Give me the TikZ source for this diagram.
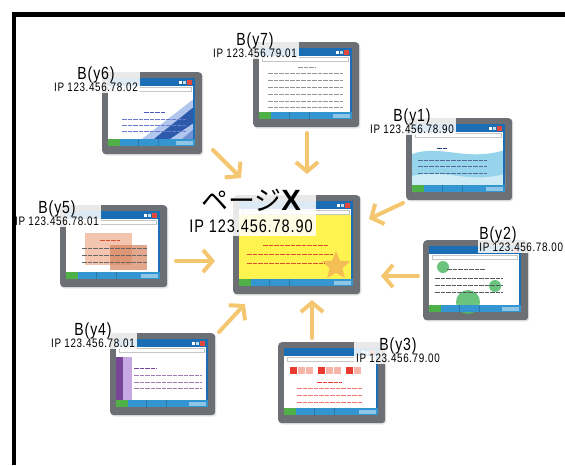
\documentclass[tikz,border=0pt]{standalone}
\usepackage{fontspec}
\setmainfont{Liberation Sans}
\newfontfamily\tagfont[FakeStretch=0.8,LetterSpace=5]{Liberation Sans}
\newfontfamily\jpfont{Noto Sans CJK JP}
\usetikzlibrary{shapes.geometric,arrows.meta,shadows}

\definecolor{bezelgray}{RGB}{108,112,117}
\definecolor{winblue}{RGB}{28,110,180}
\definecolor{barblue}{RGB}{52,150,208}
\definecolor{startgreen}{RGB}{80,176,72}
\definecolor{closered}{RGB}{226,72,60}
\definecolor{arrowgold}{RGB}{244,198,112}
\definecolor{paleyellow}{RGB}{255,243,80}
\definecolor{staror}{RGB}{242,172,88}
\definecolor{textred}{RGB}{214,80,50}
\definecolor{textgray}{RGB}{120,120,120}
\definecolor{textnavy}{RGB}{40,70,130}
\definecolor{textblue}{RGB}{70,90,190}
\definecolor{stripedark}{RGB}{46,90,172}
\definecolor{stripemid}{RGB}{110,146,212}
\definecolor{stripelight}{RGB}{176,198,236}
\definecolor{waveblue}{RGB}{150,212,236}
\definecolor{wavepale}{RGB}{206,236,246}
\definecolor{dotgreen}{RGB}{82,186,104}
\definecolor{sqred}{RGB}{232,58,46}
\definecolor{sqpink}{RGB}{247,180,168}
\definecolor{lilac}{RGB}{200,168,226}
\definecolor{plum}{RGB}{120,70,150}
\definecolor{salmon}{RGB}{242,186,160}
\definecolor{rust}{RGB}{214,130,92}

\tikzstyle{bezel} = [fill=bezelgray, rounded corners=3pt, inner sep=0pt, drop shadow={opacity=0.2,shadow xshift=1pt,shadow yshift=-1.2pt}]
\tikzstyle{tag} = [font=\tagfont, align=center, inner sep=1.5pt, fill=white, fill opacity=0.85, text opacity=1]
\tikzstyle{feed} = [draw=arrowgold, line width=3.4pt, line cap=round, -{Straight Barb[length=8pt,width=19pt]}]
\tikzstyle{txt} = [line width=0.7pt, dash pattern=on 4pt off 0.7pt, draw=textgray!80]

\newcommand{\bsize}{\fontsize{15}{15}\selectfont}
\newcommand{\ipsize}{\fontsize{10.5}{11}\selectfont}
\def\pxu{0.03cm}

% bezel, window chrome and taskbar; #6 is what the screen shows
\newcommand{\monitor}[6]{%
	\node[bezel, anchor=north west, minimum width=#4*\pxu, minimum height=#5*\pxu] (#1) at (#2,#3) {};
	\begin{scope}[shift={(#2,#3)}]
		\def\mw{#4}\def\mh{#5}
		\fill[white] (6,6) rectangle (\mw-7,\mh-8);
		#6
		\fill[winblue] (6,6) rectangle (\mw-7,14);
		\fill[white] (\mw-23,9) rectangle (\mw-20,12);
		\fill[white!75!winblue] (\mw-19,9) rectangle (\mw-16,12);
		\fill[closered] (\mw-15,8) rectangle (\mw-10,13);
		\draw[gray!45, fill=white, line width=0.4pt] (9,15.5) rectangle (\mw-11,19.5);
		\fill[winblue] (\mw-9,14) rectangle (\mw-7,\mh-15);
		\fill[barblue] (6,\mh-15) rectangle (\mw-7,\mh-8);
		\fill[startgreen] (6,\mh-15) rectangle (18,\mh-8);
		\fill[barblue!80!black] (36,\mh-15) rectangle (37,\mh-8);
		\fill[barblue!80!black] (56,\mh-15) rectangle (57,\mh-8);
		\fill[barblue!55!white] (\mw-26,\mh-13.5) rectangle (\mw-9,\mh-9.5);
	\end{scope}}

\begin{document}
\begin{tikzpicture}[x=0.03cm,y=-0.03cm]
	\useasboundingbox (0,0) rectangle (565,465);

	\monitor{page}{233}{195}{127}{99}{
		\fill[paleyellow] (6,20) rectangle (\mw-9,\mh-15);
		\node[star, star points=5, star point ratio=2.2, fill=staror, opacity=0.75, minimum size=30*\pxu, inner sep=0pt] (mark) at (\mw-24,\mh-28) {};
		\draw[txt, draw=textred] (30,50) -- (95,50);
		\draw[txt, draw=textred] (14,59) -- (100,59);
		\draw[txt, draw=textred] (14,68) -- (92,68);
	}
	\monitor{y7}{253}{42}{106}{85}{
		\draw[txt, line width=0.5pt] (45,25) -- (62,25);
		\foreach \ty in {31,38,45,52,59,65} \draw[txt] (15,\ty) -- (90,\ty);
	}
	\monitor{y6}{102}{72}{100}{82}{
		\fill[stripelight] (\mw-7,26) -- (\mw-7,\mh-15) -- (40,\mh-15) -- cycle;
		\fill[stripedark] (\mw-7,34) -- (\mw-7,50) -- (68,\mh-15) -- (52,\mh-15) -- cycle;
		\fill[stripemid] (\mw-7,56) -- (\mw-7,\mh-15) -- (80,\mh-15) -- cycle;
		\draw[txt, draw=textblue, line width=0.5pt] (42,40) -- (64,40);
		\foreach \ty in {47,53,59} \draw[txt, draw=textblue!80] (20,\ty) -- (84,\ty);
	}
	\monitor{y1}{406}{118}{106}{82}{
		\fill[waveblue] (6,36) .. controls (35,26) and (60,44) .. (\mw-7,32) -- (\mw-7,\mh-15) -- (6,\mh-15) -- cycle;
		\fill[wavepale] (6,58) .. controls (40,50) and (60,66) .. (\mw-7,56) -- (\mw-7,\mh-15) -- (6,\mh-15) -- cycle;
		\draw[txt, draw=textnavy, line width=0.5pt] (31,30) -- (42,30);
		\foreach \ty in {42,48,55} \draw[txt, draw=textnavy!80] (12,\ty) -- (81,\ty);
	}
	\monitor{y2}{423}{240}{105}{80}{
		\fill[dotgreen, opacity=0.85] (20,27) circle (6);
		\fill[dotgreen, opacity=0.85] (72,46) circle (6);
		\fill[dotgreen, opacity=0.85] (45,62) circle (12);
		\draw[txt, draw=black!65] (24,29) -- (62,29);
		\foreach \ty in {38,45,52} \draw[txt, draw=black!65] (12,\ty) -- (80,\ty);
	}
	\monitor{y3}{278}{342}{107}{81}{
		\foreach \sx/\sc in {12/sqred,20/sqpink,28/sqpink,40/sqred,48/sqpink,56/sqpink,68/sqred,76/sqpink}
			\fill[\sc] (\sx,25) rectangle ++(7,7);
		\draw[txt, draw=sqred] (39,40) -- (64,40);
		\foreach \ty in {46,53,60} \draw[txt, draw=sqred!70] (19,\ty) -- (85,\ty);
	}
	\monitor{y4}{110}{333}{105}{82}{
		\fill[plum] (6,24) rectangle (13,\mh-15);
		\fill[lilac] (13,24) rectangle (22,\mh-15);
		\draw[txt, draw=plum] (24,35) -- (47,35);
		\foreach \ty in {42,49,55} \draw[txt, draw=plum!70] (24,\ty) -- (92,\ty);
	}
	\monitor{y5}{60}{205}{107}{82}{
		\fill[salmon, opacity=0.85] (25,28) rectangle (72,60);
		\fill[rust, opacity=0.7] (50,40) rectangle (87,65);
		\draw[txt, draw=textred] (40,35) -- (60,35);
		\foreach \ty in {43,50,57} \draw[txt, draw=black!60] (22,\ty) -- (87,\ty);
	}

	\coordinate (a6) at (213,150); \coordinate (e6) at (241,178);
	\coordinate (a7) at (307,133); \coordinate (e7) at (307,174);
	\coordinate (a1) at (403,203); \coordinate (e1) at (369,219);
	\coordinate (a5) at (176,261); \coordinate (e5) at (215,261);
	\coordinate (a2) at (418,276); \coordinate (e2) at (381,276);
	\coordinate (a4) at (219,332); \coordinate (e4) at (245,304);
	\coordinate (a3) at (312,338); \coordinate (e3) at (312,300);
	\foreach \k in {6,7,1,5,2,4,3}
		\draw[feed] (a\k) -- (e\k);

	\node[tag, inner sep=3pt] (lx) at (251,211) {{\jpfont\fontsize{23}{24}\selectfont ページ}{\rmfamily\bfseries\fontsize{25}{24}\selectfont X}\\[7pt]{\fontsize{15.5}{17}\selectfont IP 123.456.78.90}};
	\node[tag] (l7) at (255,45) {{\bsize B(y7)}\\[-2pt]{\ipsize IP 123.456.79.01}};
	\node[tag] (l6) at (96,79) {{\bsize B(y6)}\\[-2pt]{\ipsize IP 123.456.78.02}};
	\node[tag] (l1) at (412,121) {{\bsize B(y1)}\\[-2pt]{\ipsize IP 123.456.78.90}};
	\node[tag, anchor=east, align=left] (l2) at (565,239) {{\bsize B(y2)}\\[-2pt]{\ipsize IP 123.456.78.00}};
	\node[tag] (l3) at (398,350) {{\bsize B(y3)}\\[-2pt]{\ipsize IP 123.456.79.00}};
	\node[tag] (l4) at (93,335) {{\bsize B(y4)}\\[-2pt]{\ipsize IP 123.456.78.01}};
	\node[tag] (l5) at (57,213) {{\bsize B(y5)}\\[-2pt]{\ipsize IP 123.456.78.01}};

	\draw[line width=3.8pt] (14.2,465) -- (14.2,14.7) -- (565,14.7);
\end{tikzpicture}
\end{document}
